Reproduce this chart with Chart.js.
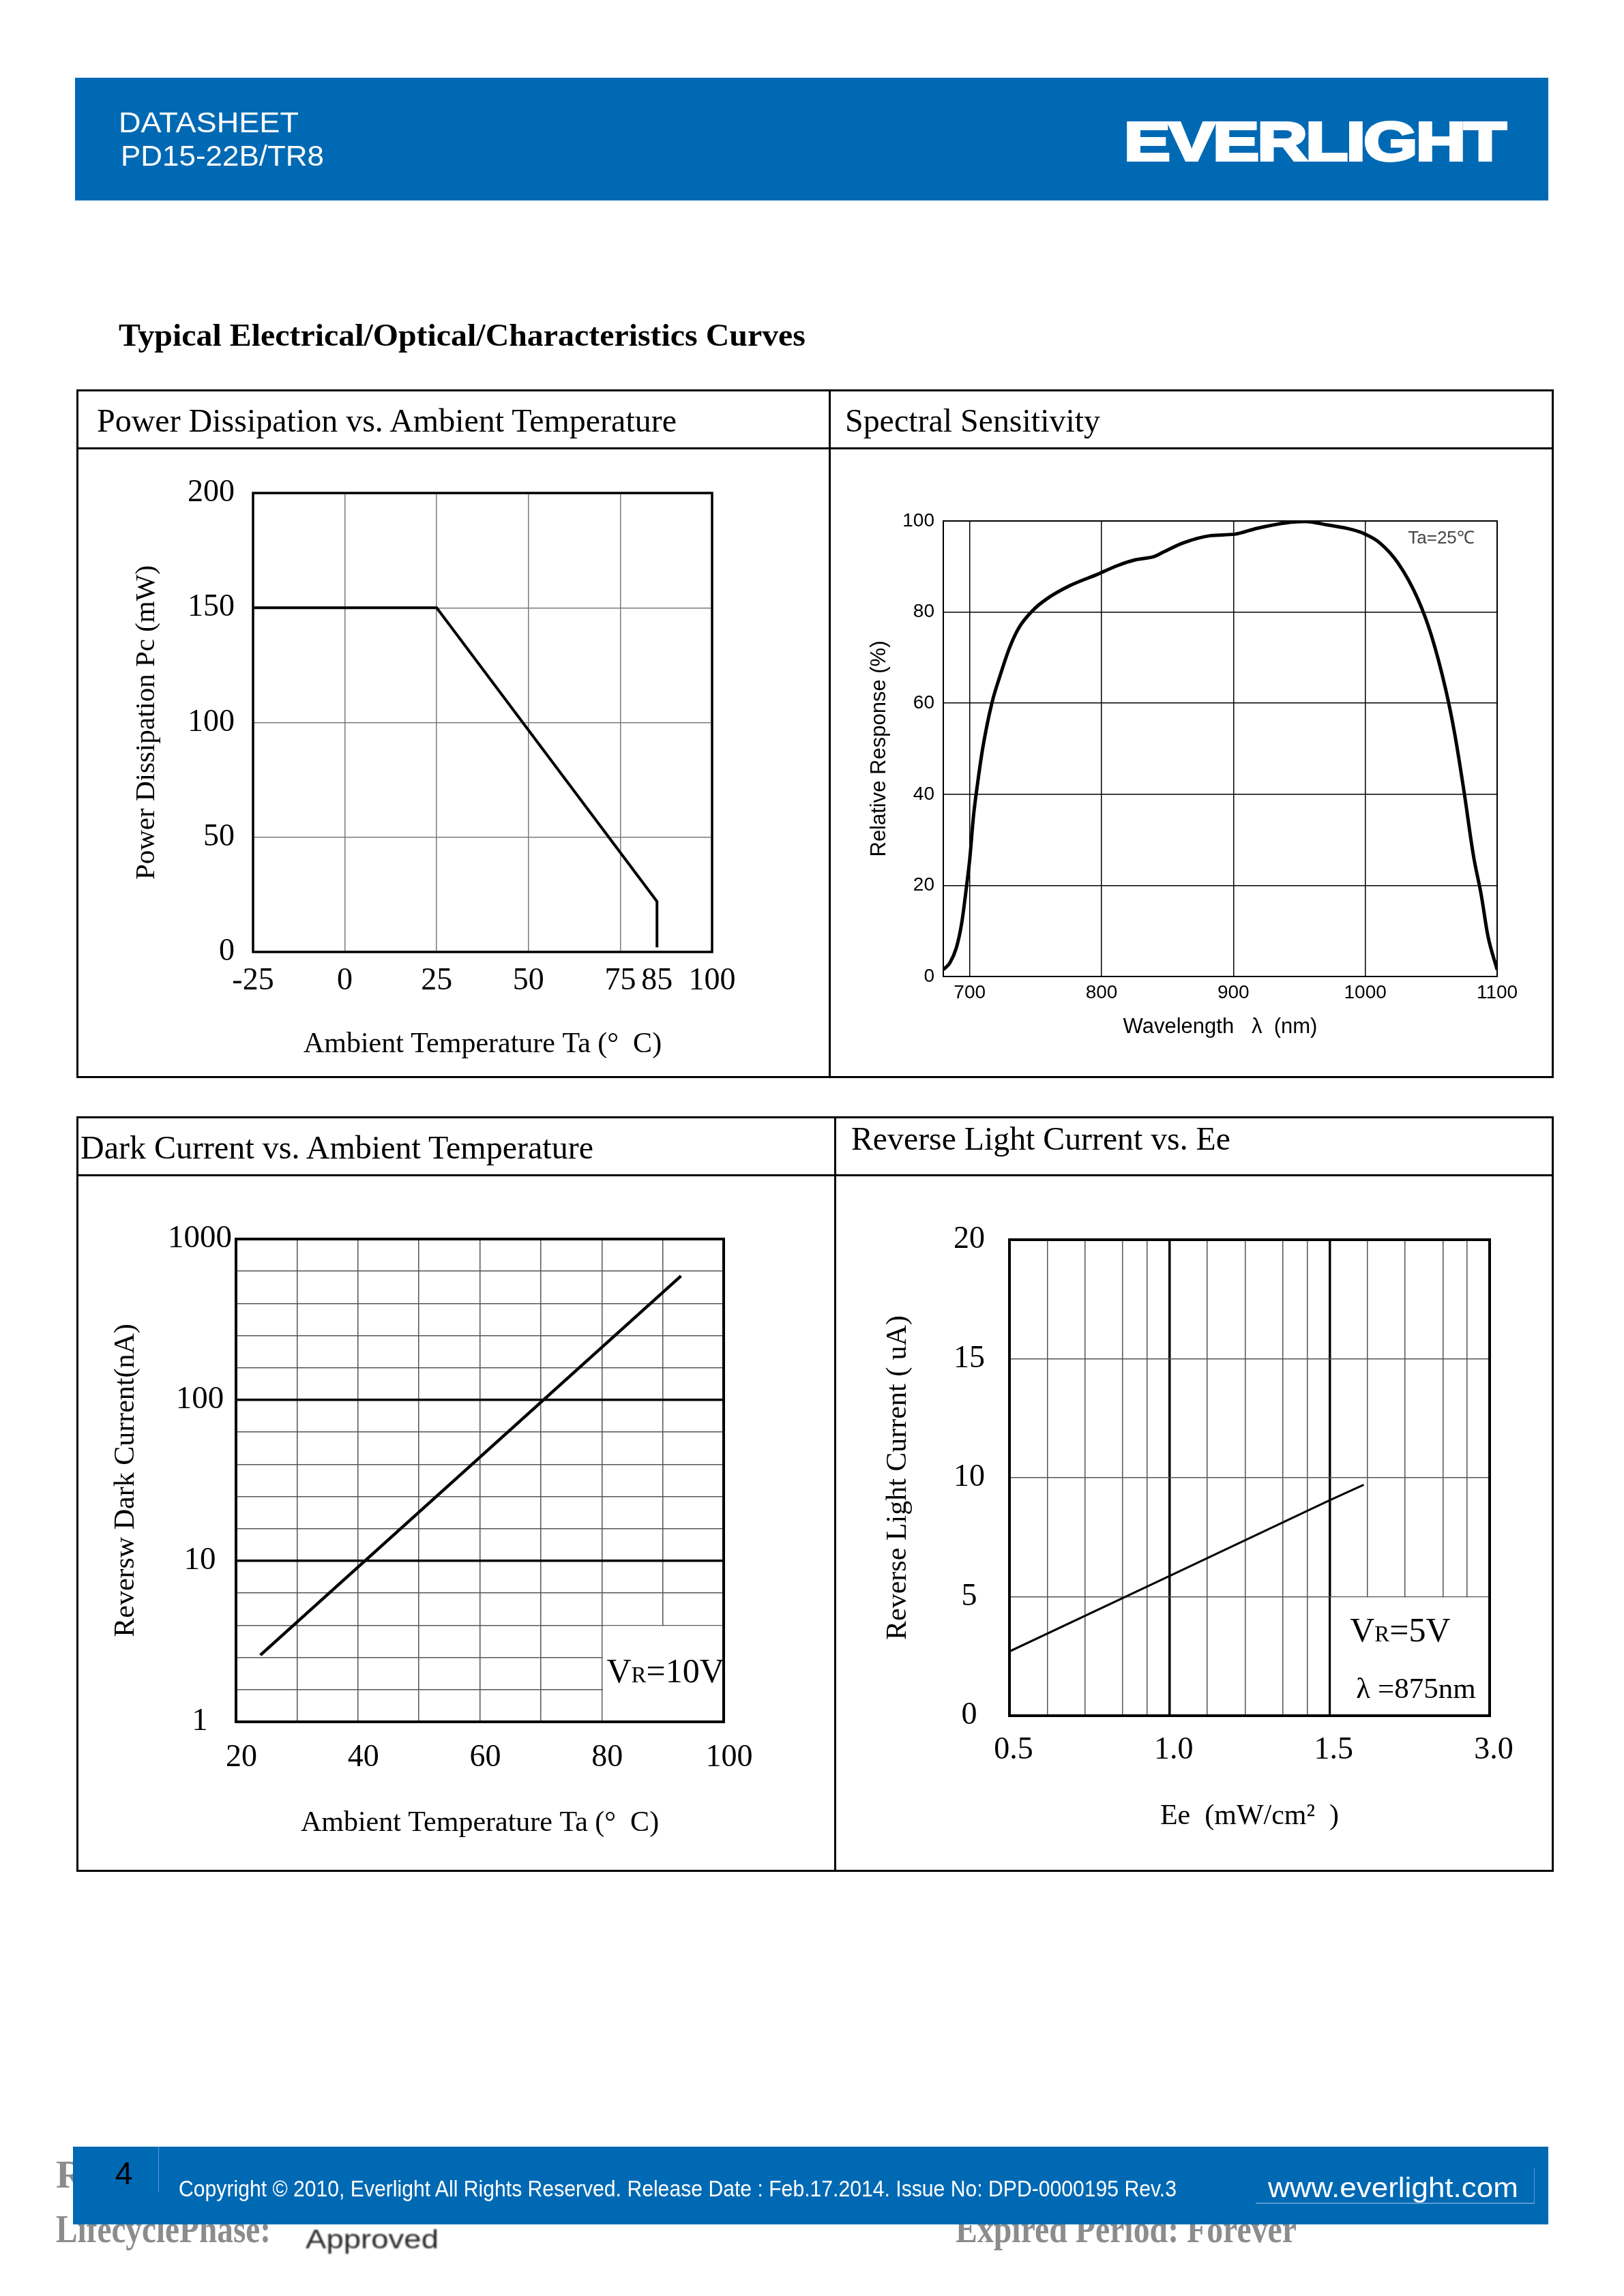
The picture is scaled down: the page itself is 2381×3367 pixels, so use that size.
<!DOCTYPE html>
<html>
<head>
<meta charset="utf-8">
<title>PD15-22B/TR8 curves</title>
<script src="https://cdn.jsdelivr.net/npm/chart.js@4.4.0/dist/chart.umd.min.js"></script>
<style>
  html, body { margin: 0; padding: 0; background: #fff; }
  #page { position: relative; width: 2381px; height: 3367px; overflow: hidden; background: #fff; }
  .t { position: absolute; white-space: nowrap; line-height: 1; transform-origin: 0 50%; }
  .serif { font-family: "Liberation Serif", "Times New Roman", serif; }
  .sans { font-family: "Liberation Sans", Arial, sans-serif; }
  .frame { position: absolute; border: 3px solid #000; box-sizing: border-box; }
  .rule { position: absolute; background: #000; }
  .bar { position: absolute; background: #0069b4; }
  canvas { position: absolute; }
</style>
</head>
<body>
<div id="page">
  <!-- header -->
  <div class="bar" style="left:110px; top:114px; width:2160px; height:180px;"></div>
  <div class="t sans" data-w="264" style="left:174px; top:158px; font-size:43px; color:#fff;">DATASHEET</div>
  <div class="t sans" data-w="298" style="left:177px; top:207px; font-size:43px; color:#fff;">PD15-22B/TR8</div>
  <div class="t sans" data-w="558" style="left:1648px; top:168px; font-size:80px; font-weight:bold; color:#fff; -webkit-text-stroke:4px #fff; letter-spacing:-2px;">EVERLIGHT</div>

  <div class="t serif" data-w="1007" style="left:174px; top:469px; font-size:46px; font-weight:bold;">Typical Electrical/Optical/Characteristics Curves</div>

  <!-- upper table -->
  <div class="frame" style="left:112px; top:571px; width:2166px; height:1010px;"></div>
  <div class="rule" style="left:112px; top:656px; width:2166px; height:3px;"></div>
  <div class="rule" style="left:1215px; top:571px; width:3px; height:1010px;"></div>
  <div class="t serif" data-w="850" style="left:142px; top:592px; font-size:49px;">Power Dissipation vs. Ambient Temperature</div>
  <div class="t serif" data-w="374" style="left:1239px; top:592px; font-size:49px;">Spectral Sensitivity</div>

  <!-- lower table -->
  <div class="frame" style="left:112px; top:1637px; width:2166px; height:1108px;"></div>
  <div class="rule" style="left:112px; top:1722px; width:2166px; height:3px;"></div>
  <div class="rule" style="left:1223px; top:1637px; width:3px; height:1108px;"></div>
  <div class="t serif" data-w="752" style="left:118px; top:1658px; font-size:49px;">Dark Current vs. Ambient Temperature</div>
  <div class="t serif" data-w="556" style="left:1248px; top:1645px; font-size:49px;">Reverse Light Current vs. Ee</div>

  <canvas id="powerChart"></canvas>
  <canvas id="spectralChart"></canvas>
  <canvas id="darkChart"></canvas>
  <canvas id="lightChart"></canvas>

  <!-- footer -->
  <div class="t serif" style="left:82px; top:3160px; font-size:58px; font-weight:bold; color:#8c8c8c;">R</div>
  <div class="t serif" data-w="315" style="left:82px; top:3240px; font-size:58px; font-weight:bold; color:#8c8c8c;">LifecyclePhase:</div>
  <div class="t serif" data-w="500" style="left:1401px; top:3240px; font-size:58px; font-weight:bold; color:#8c8c8c;">Expired Period: Forever</div>
  <div class="t sans" data-w="195" style="left:448px; top:3264px; font-size:39px; color:#2a2a2a; filter:blur(0.8px);">Approved</div>
  <div class="bar" style="left:107px; top:3148px; width:2163px; height:114px;"></div>
  <div style="position:absolute; left:232px; top:3148px; width:1px; height:67px; background:#5a9ad6;"></div>
  <div class="t sans" style="left:169px; top:3164px; font-size:46px; color:#000;">4</div>
  <div class="t sans" data-w="1463" style="left:262px; top:3193px; font-size:33px; color:#fff;">Copyright © 2010, Everlight All Rights Reserved. Release Date : Feb.17.2014. Issue No: DPD-0000195 Rev.3</div>
  <div class="t sans" data-w="367" style="left:1859px; top:3188px; font-size:40px; color:#fff;">www.everlight.com</div>
  <div style="position:absolute; left:1841px; top:3230px; width:409px; height:2px; background:#5a9ad6;"></div>
  <div style="position:absolute; left:2249px; top:3180px; width:1px; height:51px; background:#5a9ad6;"></div>
</div>

<script>
// ---- data ----

// Power dissipation vs ambient temperature
const powerTemp = [-25, 25, 85, 85];
const powerValue = [150, 150, 22, 2];
const powerTicks = [-25, 0, 25, 50, 75, 85, 100];

// Spectral sensitivity
const waveLength = [680, 685, 690, 694, 698, 700, 703, 706, 710, 717, 723, 730, 737, 748, 758, 776,
  797, 812, 826, 840, 847, 862, 883, 901, 918, 940, 954, 972, 990, 1000, 1011, 1025, 1040, 1050,
  1061, 1068, 1075, 1082, 1088, 1093, 1100];
const response = [1.5, 3, 6.4, 11.8, 20.7, 25.6, 35.5, 42.4, 50.3, 60.2, 66, 72, 76.4, 80.4, 82.8, 85.8,
  88.3, 90.2, 91.5, 92.2, 93.2, 95.2, 96.8, 97.1, 98.4, 99.6, 99.9, 99.1, 98.1, 97.1, 95.2, 90.7, 82.8, 75,
  63, 53, 40.4, 26.6, 17.8, 8.9, 1.5];
const waveTicks = [700, 800, 900, 1000, 1100];

// Dark current vs ambient temperature (log axis)
const darkTemp = [24, 93];
const darkCurrent = [2.6, 590];
const darkTickLabels = ['1', '10', '100', '1000'];
const darkStepsPerDecade = 5;

// Reverse light current vs Ee (the paper has 4 equally spaced labelled lines)
const eeTickValues = [0.5, 1.0, 1.5, 3.0];
const eeTickLabels = ['0.5', '1.0', '1.5', '3.0'];
const eeMinorSteps = [0.236, 0.472, 0.708, 0.860];
const lightEe = [0.5, 1.0, 1.5, 1.82];
const lightCurrent = [2.7, 5.87, 9.05, 9.7];

// ---- helpers ----
const SERIF = '"Liberation Serif", "Times New Roman", serif';
const SANS = '"Liberation Sans", Arial, sans-serif';

Chart.defaults.color = '#000';
Chart.defaults.animation = false;
Chart.defaults.devicePixelRatio = 1;

// piecewise position of an Ee value on the paper's axis (0..3)
function eeToAxis(v) {
  for (let i = 0; i < eeTickValues.length - 1; i++) {
    const a = eeTickValues[i], b = eeTickValues[i + 1];
    if (v <= b || i === eeTickValues.length - 2) return i + (v - a) / (b - a);
  }
}

// white label boxes, text notes and the heavy frame
const paperPlugin = {
  id: 'paper',
  beforeDatasetsDraw(chart, args, opts) {
    const ctx = chart.ctx, xs = chart.scales.x, ys = chart.scales.y;
    (opts.boxes || []).forEach(b => {
      const x0 = xs.getPixelForValue(b.x0) + b.inset;
      const x1 = xs.getPixelForValue(b.x1);
      const y0 = ys.getPixelForValue(b.y0);
      const y1 = ys.getPixelForValue(b.y1) + 1;
      ctx.save();
      ctx.fillStyle = '#fff';
      ctx.fillRect(x0, y1, x1 - x0, y0 - y1);
      ctx.restore();
    });
  },
  afterDatasetsDraw(chart, args, opts) {
    const ctx = chart.ctx, a = chart.chartArea;
    ctx.save();
    ctx.strokeStyle = '#000';
    ctx.lineWidth = opts.frame || 2;
    ctx.strokeRect(a.left, a.top, a.right - a.left, a.bottom - a.top);
    (opts.notes || []).forEach(n => {
      let x = a.left + n.fx * (a.right - a.left);
      const y = a.top + n.fy * (a.bottom - a.top);
      ctx.fillStyle = n.color || '#000';
      ctx.textBaseline = 'alphabetic';
      ctx.textAlign = 'left';
      n.parts.forEach(p => {
        ctx.font = p.size + 'px ' + n.family;
        ctx.fillText(p.t, x, y);
        x += ctx.measureText(p.t).width;
      });
    });
    ctx.restore();
  }
};

function build(id, rect, plot, setup) {
  const canvas = document.getElementById(id);
  canvas.width = rect.w;
  canvas.height = rect.h;
  canvas.style.left = rect.x + 'px';
  canvas.style.top = rect.y + 'px';
  canvas.style.width = rect.w + 'px';
  canvas.style.height = rect.h + 'px';

  const cfg = setup;
  cfg.options.responsive = false;
  cfg.options.maintainAspectRatio = false;
  cfg.options.layout = {
    padding: { left: 0, bottom: 0, top: plot.top - rect.y, right: rect.x + rect.w - plot.right }
  };
  cfg.options.scales.x.afterFit = s => { s.height = rect.y + rect.h - plot.bottom; };
  cfg.options.scales.y.afterFit = s => { s.width = plot.left - rect.x; };
  cfg.options.plugins = Object.assign({ legend: { display: false }, tooltip: { enabled: false } }, cfg.options.plugins);
  cfg.plugins = [paperPlugin];
  return new Chart(canvas.getContext('2d'), cfg);
}

// title paddings so the centre of each axis title sits where the paper has it
function yTitlePad(rect, cx, size) { return cx - rect.x - size * 0.6; }
function xTitlePad(rect, cy, size) { return rect.y + rect.h - cy - size * 0.6; }

// ---- 1. power dissipation ----
const r1 = { x: 115, y: 659, w: 1100, h: 919 };
build('powerChart', r1, { left: 371, right: 1044, top: 723, bottom: 1396 }, {
  type: 'line',
  data: {
    datasets: [{
      data: powerTemp.map((t, i) => ({ x: t, y: powerValue[i] })),
      borderColor: '#000', borderWidth: 4, pointRadius: 0, fill: false, tension: 0
    }]
  },
  options: {
    scales: {
      x: {
        type: 'linear', min: -25, max: 100,
        afterBuildTicks: s => { s.ticks = powerTicks.map(v => ({ value: v })); },
        ticks: { font: { family: SERIF, size: 46 }, padding: 15, maxRotation: 0, autoSkip: false,
          callback: v => String(v) },
        grid: { drawTicks: false, color: c => (c.tick && c.tick.value === 85) ? 'rgba(0,0,0,0)' : '#7a7a7a', lineWidth: 1.5 },
        border: { display: false },
        title: { display: true, text: 'Ambient Temperature Ta (°  C)', font: { family: SERIF, size: 42 },
          padding: { top: 0, bottom: xTitlePad(r1, 1532, 42) } }
      },
      y: {
        min: 0, max: 200,
        ticks: { stepSize: 50, font: { family: SERIF, size: 46 }, padding: 27 },
        grid: { drawTicks: false, color: '#7a7a7a', lineWidth: 1.5 },
        border: { display: false },
        title: { display: true, text: 'Power Dissipation Pc (mW)', font: { family: SERIF, size: 41 },
          padding: { top: yTitlePad(r1, 215, 41), bottom: 0 } }
      }
    },
    plugins: { paper: { frame: 3.5 } }
  }
});

// ---- 2. spectral sensitivity ----
const r2 = { x: 1218, y: 659, w: 1057, h: 919 };
build('spectralChart', r2, { left: 1383, right: 2195, top: 764, bottom: 1432 }, {
  type: 'line',
  data: {
    datasets: [{
      data: waveLength.map((w, i) => ({ x: w, y: response[i] })),
      borderColor: '#000', borderWidth: 5, pointRadius: 0, fill: false,
      cubicInterpolationMode: 'monotone'
    }]
  },
  options: {
    scales: {
      x: {
        type: 'linear', min: 680, max: 1100,
        afterBuildTicks: s => { s.ticks = waveTicks.map(v => ({ value: v })); },
        ticks: { font: { family: SANS, size: 28 }, padding: 7, maxRotation: 0, autoSkip: false,
          callback: v => String(v) },
        grid: { drawTicks: false, color: '#000', lineWidth: 1.5 },
        border: { display: false },
        title: { display: true, text: 'Wavelength   λ  (nm)', font: { family: SANS, size: 31 },
          padding: { top: 0, bottom: xTitlePad(r2, 1506, 31) } }
      },
      y: {
        min: 0, max: 100,
        ticks: { stepSize: 20, font: { family: SANS, size: 28 }, padding: 13 },
        grid: { drawTicks: false, color: '#000', lineWidth: 1.5 },
        border: { display: false },
        title: { display: true, text: 'Relative Response (%)', font: { family: SANS, size: 31 },
          padding: { top: yTitlePad(r2, 1289, 31), bottom: 0 } }
      }
    },
    plugins: {
      paper: {
        frame: 2,
        notes: [{ fx: 0.839, fy: 0.049, family: SANS, color: '#444', parts: [{ t: 'Ta=25℃', size: 26 }] }]
      }
    }
  }
});

// ---- 3. dark current ----
const r3 = { x: 115, y: 1725, w: 1108, h: 1017 };
const isDecade = v => Math.abs(Math.log10(v) - Math.round(Math.log10(v))) < 1e-6;
build('darkChart', r3, { left: 346, right: 1061, top: 1817, bottom: 2525 }, {
  type: 'line',
  data: {
    datasets: [{
      data: darkTemp.map((t, i) => ({ x: t, y: darkCurrent[i] })),
      borderColor: '#000', borderWidth: 4.5, pointRadius: 0, fill: false, tension: 0
    }]
  },
  options: {
    scales: {
      x: {
        type: 'linear', min: 20, max: 100,
        ticks: { stepSize: 10, font: { family: SERIF, size: 46 }, padding: 25, labelOffset: 8,
          maxRotation: 0, autoSkip: false,
          callback: v => (v % 20 === 0 ? String(v) : '') },
        grid: { drawTicks: false, color: '#555', lineWidth: 1.5 },
        border: { display: false },
        title: { display: true, text: 'Ambient Temperature Ta (°  C)', font: { family: SERIF, size: 42 },
          padding: { top: 0, bottom: xTitlePad(r3, 2674, 42) } }
      },
      y: {
        type: 'logarithmic', min: 1, max: 1000,
        afterBuildTicks: s => {
          const n = (darkTickLabels.length - 1) * darkStepsPerDecade;
          const t = [];
          for (let i = 0; i <= n; i++) t.push({ value: Math.pow(10, i / darkStepsPerDecade) });
          s.ticks = t;
        },
        ticks: { font: { family: SERIF, size: 47 }, padding: 6, crossAlign: 'center', autoSkip: false,
          callback: (v, i) => (i % darkStepsPerDecade === 0 ? darkTickLabels[i / darkStepsPerDecade] : '') },
        grid: {
          drawTicks: false,
          color: c => (c.tick && isDecade(c.tick.value)) ? '#000' : '#555',
          lineWidth: c => (c.tick && isDecade(c.tick.value)) ? 3.5 : 1.5
        },
        border: { display: false },
        title: { display: true, text: 'Reversw Dark Current(nA)', font: { family: SERIF, size: 42 },
          padding: { top: yTitlePad(r3, 185, 42), bottom: 0 } }
      }
    },
    plugins: {
      paper: {
        frame: 4,
        boxes: [{ x0: 80, x1: 100, y0: 1, y1: Math.pow(10, 0.6), inset: 1.5 }],
        notes: [{ fx: 0.760, fy: 0.918, family: SERIF,
          parts: [{ t: 'V', size: 50 }, { t: 'R', size: 33 }, { t: '=10V', size: 50 }] }]
      }
    }
  }
});

// ---- 4. reverse light current ----
const r4 = { x: 1226, y: 1725, w: 1049, h: 1017 };
build('lightChart', r4, { left: 1480, right: 2184, top: 1818, bottom: 2516 }, {
  type: 'line',
  data: {
    datasets: [{
      data: lightEe.map((e, i) => ({ x: eeToAxis(e), y: lightCurrent[i] })),
      borderColor: '#000', borderWidth: 3, pointRadius: 0, fill: false, tension: 0
    }]
  },
  options: {
    scales: {
      x: {
        type: 'linear', min: 0, max: eeTickValues.length - 1,
        afterBuildTicks: s => {
          const t = [];
          for (let i = 0; i < eeTickValues.length; i++) {
            t.push({ value: i });
            if (i < eeTickValues.length - 1) eeMinorSteps.forEach(f => t.push({ value: i + f }));
          }
          s.ticks = t;
        },
        ticks: { font: { family: SERIF, size: 46 }, padding: 23, labelOffset: 6, maxRotation: 0, autoSkip: false,
          callback: v => (Number.isInteger(v) ? eeTickLabels[v] : '') },
        grid: {
          drawTicks: false,
          color: c => (c.tick && Number.isInteger(c.tick.value)) ? '#000' : '#555',
          lineWidth: c => (c.tick && Number.isInteger(c.tick.value)) ? 3.5 : 1.5
        },
        border: { display: false },
        title: { display: true, text: 'Ee  (mW/cm²  )', font: { family: SERIF, size: 42 },
          padding: { top: 0, bottom: xTitlePad(r4, 2664, 42) } }
      },
      y: {
        min: 0, max: 20,
        ticks: { stepSize: 5, font: { family: SERIF, size: 46 }, padding: 36, crossAlign: 'center' },
        grid: { drawTicks: false, color: '#555', lineWidth: 1.5 },
        border: { display: false },
        title: { display: true, text: 'Reverse Light Current ( uA)', font: { family: SERIF, size: 42 },
          padding: { top: yTitlePad(r4, 1317, 42), bottom: 0 } }
      }
    },
    plugins: {
      paper: {
        frame: 4,
        boxes: [{ x0: 2, x1: 3, y0: 0, y1: 5, inset: 2 }],
        notes: [
          { fx: 0.709, fy: 0.844, family: SERIF, parts: [{ t: 'V', size: 50 }, { t: 'R', size: 33 }, { t: '=5V', size: 50 }] },
          { fx: 0.722, fy: 0.963, family: SERIF, parts: [{ t: 'λ =875nm', size: 43 }] }
        ]
      }
    }
  }
});

// squeeze page texts to the widths they have on the sheet
function fitTexts() {
  document.querySelectorAll('[data-w]').forEach(el => {
    el.style.transform = 'none';
    const w = el.getBoundingClientRect().width;
    if (w > 0) el.style.transform = 'scaleX(' + (el.dataset.w / w) + ')';
  });
}
fitTexts();
if (document.fonts && document.fonts.ready) document.fonts.ready.then(fitTexts);
</script>
</body>
</html>
